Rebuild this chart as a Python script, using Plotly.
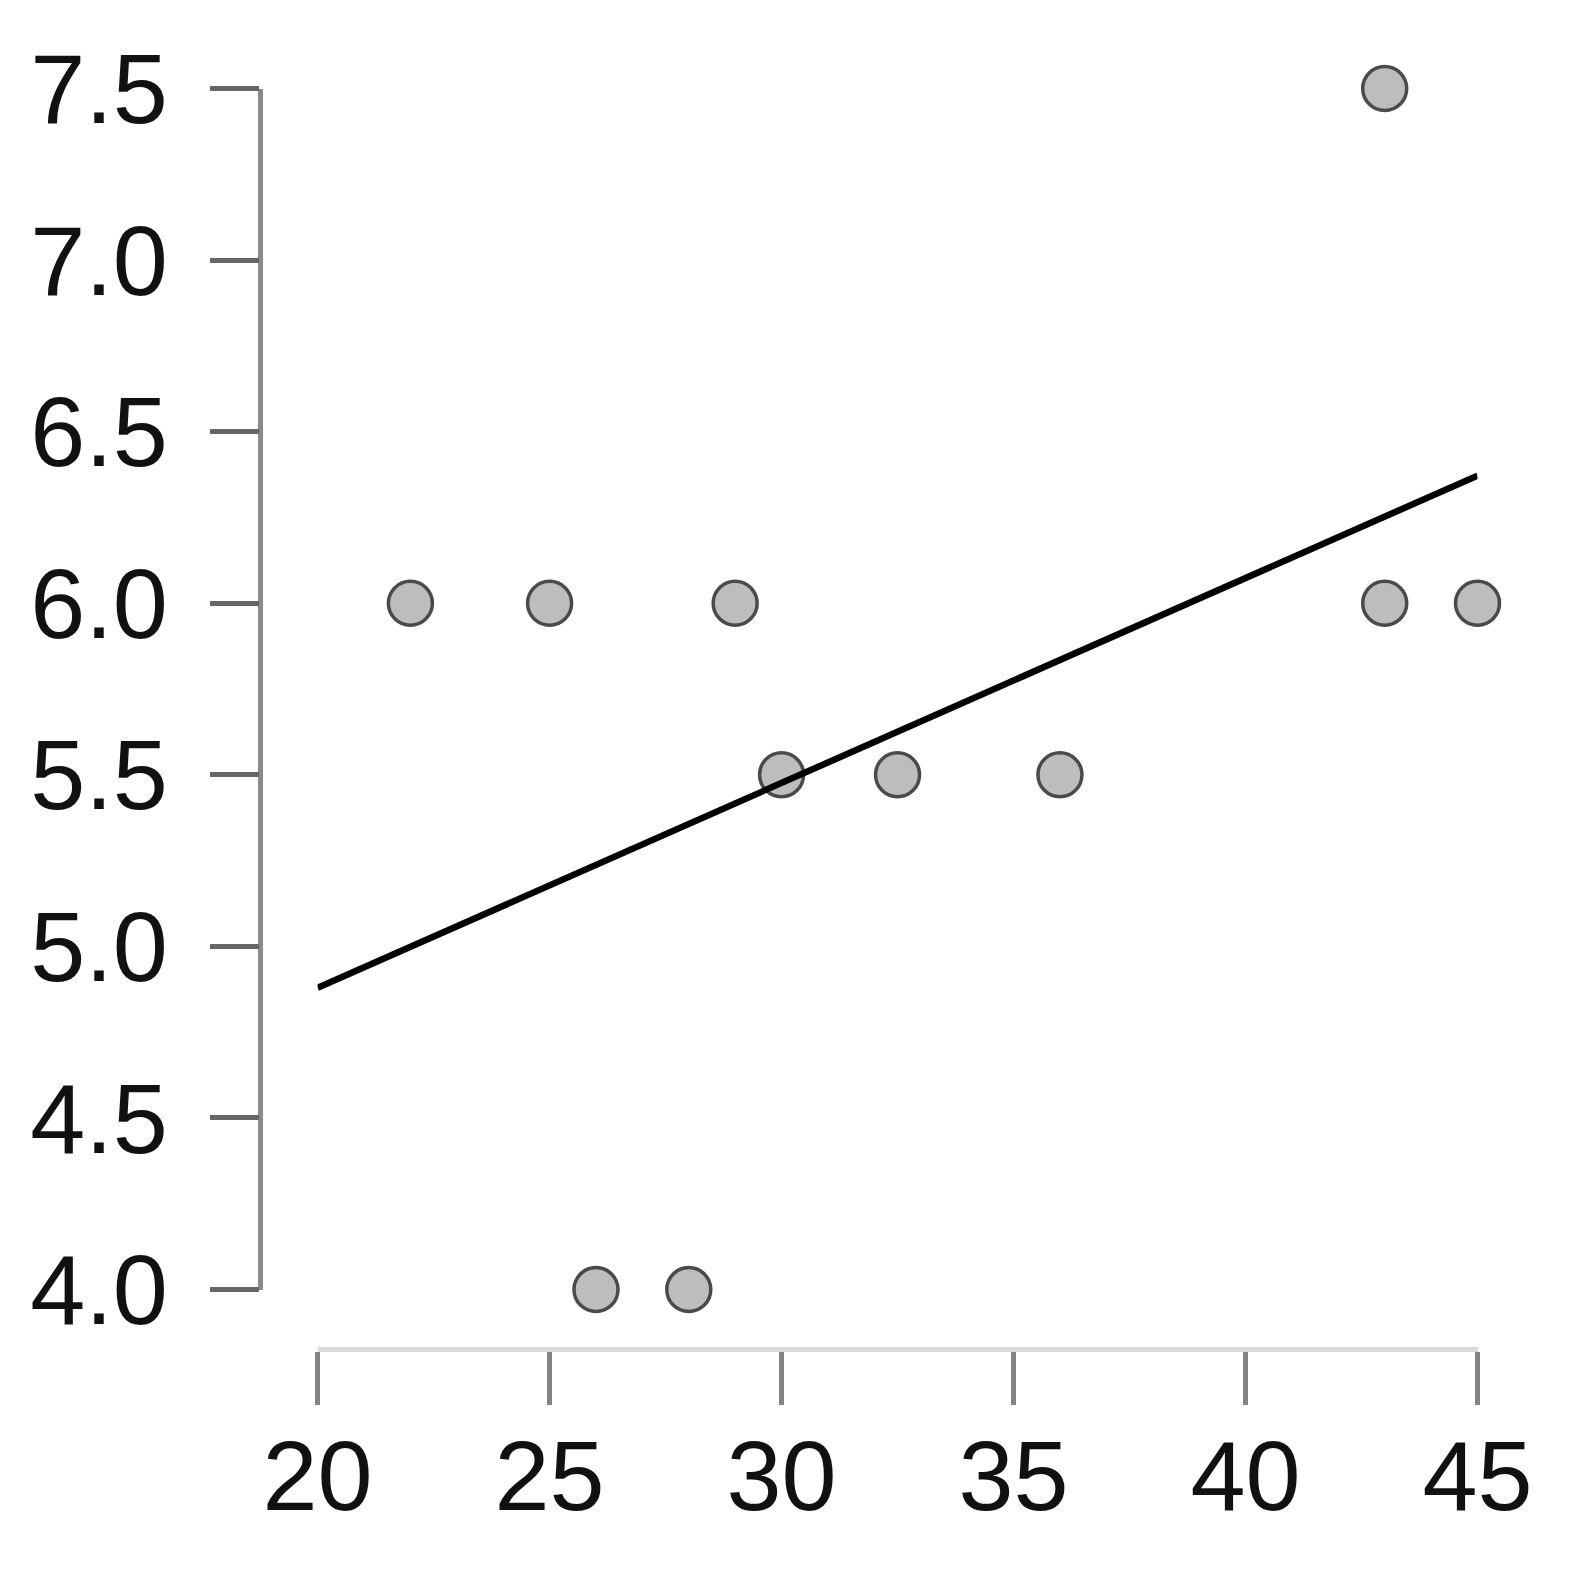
import numpy as np
import plotly.graph_objects as go

# Data
x_vals = [22, 25, 29, 43, 45, 43, 30, 32.5, 36, 26, 28]
y_vals = [6.0, 6.0, 6.0, 6.0, 6.0, 7.5, 5.5, 5.5, 5.5, 4.0, 4.0]
x_ticks = [20, 25, 30, 35, 40, 45]
y_ticks = [4.0, 4.5, 5.0, 5.5, 6.0, 6.5, 7.0, 7.5]
y_tick_text = ["4.0", "4.5", "5.0", "5.5", "6.0", "6.5", "7.0", "7.5"]

# least-squares fit line across the x-axis range
slope, intercept = np.polyfit(x_vals, y_vals, 1)
fit_x = [x_ticks[0], x_ticks[-1]]
fit_y = [intercept + slope * v for v in fit_x]

W = H = 1576
OFF = 8  # page body margin
FONT = dict(family="Liberation Sans, Arial, sans-serif", size=99, color="#111111")

fig = go.Figure()
fig.add_trace(go.Scatter(
    x=x_vals, y=y_vals, mode="markers", cliponaxis=False,
    marker=dict(size=44, color="#bdbdbd", line=dict(color="#4a4a4a", width=3.5)),
    showlegend=False, hoverinfo="skip"))
fig.add_trace(go.Scatter(
    x=fit_x, y=fit_y, mode="lines", cliponaxis=False,
    line=dict(color="#000000", width=6.5),
    showlegend=False, hoverinfo="skip"))

fig.update_layout(
    width=W, height=H,
    margin=dict(l=0, r=0, t=0, b=0, autoexpand=False),
    paper_bgcolor="white", plot_bgcolor="white",
    xaxis=dict(
        domain=[(317.6 - OFF) / W, (1477.5 - OFF) / W], range=[20, 45],
        anchor="free", position=1 - (1349 - OFF) / H, automargin=False,
        showgrid=False, zeroline=False,
        showline=True, linecolor="#d9d9d9", linewidth=5,
        ticks="outside", ticklen=53, tickwidth=4.5, tickcolor="#858585",
        tickvals=x_ticks, ticktext=[str(v) for v in x_ticks],
        tickfont=FONT, ticklabelstandoff=-14,
    ),
    yaxis=dict(
        domain=[1 - (1289.5 - OFF) / H, 1 - (88.5 - OFF) / H], range=[4.0, 7.5],
        anchor="free", position=(260.3 - OFF) / W, automargin=False,
        showgrid=False, zeroline=False,
        showline=True, linecolor="#8a8a8a", linewidth=4.5,
        ticks="outside", ticklen=49, tickwidth=4.5, tickcolor="#666666",
        tickvals=y_ticks, ticktext=y_tick_text,
        tickfont=FONT, ticklabelstandoff=22,
    ),
)

fig.write_html("out.html")
